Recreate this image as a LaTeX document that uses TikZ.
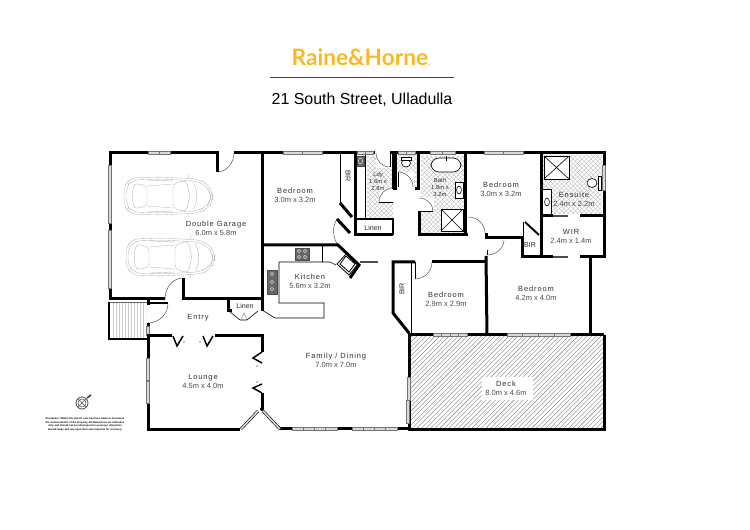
\documentclass[tikz,border=0pt]{standalone}
\usepackage{fontspec}
\usetikzlibrary{calc}
\setmainfont{Liberation Sans}
\newfontfamily\labfont[LetterSpace=12]{Liberation Sans}
\newfontfamily\logofont{Lato}
\definecolor{logoyellow}{HTML}{F9B91F}
\definecolor{winfill}{HTML}{DADADA}
\definecolor{labgrey}{HTML}{2E2E2E}
\definecolor{dimgrey}{HTML}{4A4A4A}
\newcommand{\rlab}[2]{{\labfont #1}\\{\rmfamily\color{dimgrey}#2}}
\tikzset{
  wall/.style={line width=2.25pt,line cap=butt,line join=miter,black},
  midwall/.style={line width=1.1pt,black},
  fine/.style={line width=0.45pt,black},
  doorarc/.style={line width=0.35pt,black!70},
  win/.style={fill=winfill,draw=black!55,line width=0.3pt},
  slider/.style={line width=1.6pt,black!70},
  bay/.style={draw=black,line width=0.45pt,double=winfill,double distance=1.2pt},
  carline/.style={line width=0.28pt,black!28},
  tile/.style={line width=0.2pt,black!38},
  hatchline/.style={line width=0.3pt,black!50},
  room/.style={font=\fontsize{5.6}{6.9}\selectfont,text=labgrey,align=center,inner sep=0pt},
  tightroom/.style={font=\rmfamily\fontsize{5.3}{6.9}\selectfont,text=labgrey,align=center,inner sep=0pt},
  smallroom/.style={font=\fontsize{4.4}{5.3}\selectfont,text=labgrey,align=center,inner sep=0pt},
  fix/.style={fill=black!60,draw=black!70,line width=0.2pt}
}
\newcommand{\qarc}[3]{\draw[doorarc] (#1) .. controls ($(#1)!0.55!(#2)$) and ($(#3)!0.55!(#2)$) .. (#3);}
\newcommand{\winh}[3]{\filldraw[win] (#1,#3-1.6) rectangle (#2,#3+1.6); \draw[line width=0.25pt,black!55] ({(#1+#2)/2},#3-1.6) -- ({(#1+#2)/2},#3+1.6);}
\newcommand{\winv}[3]{\filldraw[win] (#3-1.6,#1) rectangle (#3+1.6,#2);}
\newcommand{\carshape}[2]{%
 \begin{scope}[shift={(#1,#2)}]
  \draw[carline,rounded corners=5] (-44,-9) -- (-38,-18) -- (-8,-19) -- (30,-17) -- (40,-12) -- (45,-2) -- (45,4) -- (40,13) -- (30,17) -- (-8,19) -- (-38,18) -- (-44,9) -- cycle;
  \draw[carline,rounded corners=5] (-42,-8) -- (-36,-16) -- (-8,-17) -- (29,-15) -- (38,-10) -- (43,-2) -- (43,4) -- (38,11) -- (29,15) -- (-8,17) -- (-36,16) -- (-42,8) -- cycle;
  \draw[carline,rounded corners=3] (-34,-13) -- (-21,-10) -- (-21,10) -- (-34,13) -- (-36,0) -- cycle;
  \draw[carline,rounded corners=3] (5,-12) -- (18,-16) -- (22,0) -- (18,16) -- (5,12) -- cycle;
  \draw[carline] (-21,-10) -- (5,-12) (-21,10) -- (5,12);
  \draw[carline] (-20,-16) -- (5,-15) (-20,16) -- (5,15);
  \draw[carline] (20,-17) -- (21,-22) (20,17) -- (21,22);
  \draw[carline] (25,-14) .. controls (30,-5) and (30,5) .. (25,14);
 \end{scope}}
\begin{document}
\begin{tikzpicture}[x=0.75pt,y=-0.75pt]
\useasboundingbox (0,0) rectangle (750,530);
% header
\node[font=\logofont\bfseries\fontsize{17}{19}\selectfont,text=logoyellow,inner sep=0pt] (logo) at (361,57) {Raine\&Horne{\fontsize{7}{8}\selectfont.}};
\coordinate (ruleL) at (270,77); \coordinate (ruleR) at (454,77);
\draw[line width=0.55pt,black!75] (ruleL) -- (ruleR);
\node[font=\fontsize{11.95}{14}\selectfont,text=black,inner sep=0pt] (addr) at (362,100) {21 South Street, Ulladulla};
% deck hatch
\begin{scope}
 \clip (409,335) rectangle (604,430);
 \foreach \d in {300,304.6,...,610} \draw[hatchline] (\d,430) -- (\d+95,335);
\end{scope}
\fill[white] (482,377) rectangle (533,400);
% stairs hatch
\begin{scope}
 \clip (110,302) rectangle (146,338);
 \foreach \d in {113,116,...,146} \draw[line width=0.3pt,black!20] (\d,303) -- (\d,338);
\end{scope}
% tiled floors
\begin{scope}
 \clip (367,156) rectangle (393,218) (397,155) rectangle (417,187) (421,156) rectangle (464,233) (543,155) rectangle (602,214);
 \foreach \d in {240,244.5,...,720} {
  \draw[tile] (\d,150) -- (\d+90,240);
  \draw[tile] (\d,150) -- (\d-90,240);
 }
\end{scope}
% white door sweeps and fixtures on tile
\fill[white] (376,153) rectangle (393,168);
\fill[white] (379,188) rectangle (394,203);
\fill[white] (397,172) rectangle (414,188);
\fill[white] (419,197) rectangle (434,212);
\fill[white] (542,189) rectangle (551,214);
\fill[white] (455,182) rectangle (463,198);
% cars
\carshape{168}{196}
\carshape{170}{257}
% thin interior lines
\draw[fine] (340,153) -- (340,204);
\draw[fine] (365,153) -- (365,220);
\draw[fine] (411,262) -- (411,333);
\draw[fine] (322,245) -- (322,262);
\draw[fine] (279,262) -- (330,262) -- (336,265);
\draw[fine] (279,262) -- (279,303) -- (324,303) -- (324,318) -- (275,318) -- (262,310);
\draw[fine] (229,311) -- (240,320) -- (247,320) -- (258,311);
\draw[line width=0.3pt,black!50] (241,320) -- (244,313) -- (247,320);
\draw[fine] (487,255) -- (487,250);
\draw[fine] (415,262) -- (415,279);
\draw[fine] (398,172) -- (398,187);
\draw[fine] (419,211) -- (433,211);
\draw[fine] (379,202) -- (393,202);
\draw[fine] (390,153) -- (390,167);
\draw[fine] (523,222) -- (523,238);
% stairs outline
\draw[line width=0.3pt,black!60] (109,302) -- (147,302);
\draw[line width=0.9pt,black] (147,339) -- (109,339) -- (109,302);
% door arcs
\qarc{217,172}{234,172}{234,153}
\qarc{183,278}{165,278}{165,299}
\qarc{168,303}{168,323}{148,323}
\qarc{376,153}{376,167}{390,167}
\qarc{379,202}{379,188}{393,188}
\qarc{398,172}{413,172}{413,187}
\qarc{419,198}{433,198}{433,211}
\qarc{468,217}{485,217}{485,233}
\qarc{487,255}{504,255}{504,240}
\qarc{415,279}{432,279}{432,262}
\qarc{337,219}{328,232}{338,245}
% main walls
\draw[wall] (165,299) -- (110,299) -- (110,153) -- (217,153) -- (217,172);
\draw[wall] (234,153) -- (375,153);
\draw[wall] (390,153) -- (604,153) -- (604,257) -- (580,257);
\draw[wall] (262,153) -- (262,311);
\draw[wall] (183,278) -- (183,299) -- (262,299);
\draw[wall] (262,245) -- (338,245) -- (359,265) -- (350,278);
\draw[wall] (340,203) -- (352,217);
\draw[wall] (337,219) -- (350,233);
\draw[wall] (355,153) -- (355,235) -- (393,235);
\draw[line width=1.6pt] (355,219) -- (393,219) -- (393,235);
\draw[wall] (393,153) -- (393,189);
\draw[wall] (395,153) -- (395,189) -- (393,189);
\draw[wall] (418,153) -- (418,189) -- (415,189);
\draw[wall] (419,211) -- (419,235) -- (468,235);
\draw[wall] (465,153) -- (465,235);
\draw[wall] (486,256) -- (487,335);
\draw[wall] (486,233) -- (486,238) -- (522,238) -- (522,257) -- (553,257);
\draw[wall] (541,153) -- (541,257);
\draw[wall] (541,216) -- (553,216);
\draw[wall] (580,216) -- (604,216);
\draw[wall] (590,257) -- (590,335);
\draw[line width=1.4pt] (525,222) -- (539,235);
\draw[wall] (432,262) -- (487,262);
\draw[wall] (415,262) -- (393,262) -- (393,313) -- (409,333);
\draw[wall] (409,335) -- (604,335);
\draw[wall] (604,335) -- (604,431);
\draw[wall] (409,430) -- (604,430);
\draw[wall] (409,333) -- (409,431);
% entry / lounge
\draw[midwall] (148,303) -- (168,303);
\draw[wall] (148,299) -- (148,305);
\draw[wall] (148,323) -- (148,327);
\winv{326}{335}{148}
\draw[wall] (172,336) -- (148,336) -- (148,431);
\draw[wall] (148,430) -- (240,430);
\draw[wall] (215,336) -- (262,336) -- (262,352);
\draw[wall] (262,393) -- (262,409);
\draw[wall] (279,429) -- (409,429);
\draw[wall] (228,299) -- (228,311) -- (232,311);
\draw[bay] (241,429) -- (258,411);
\draw[bay] (263,411) -- (280,429);
\fill (262,409) circle (2);
% bifold doors
\draw[midwall] (173,336) -- (177,346) -- (183,336);
\draw[midwall] (203,336) -- (207,346) -- (213,336);
\draw[midwall] (262,352) -- (253,358) -- (262,363);
\draw[midwall] (262,384) -- (253,388) -- (262,393);
\fill (184,342) circle (0.6) (200,342) circle (0.6) (257,366) circle (0.6) (257,382) circle (0.6);
% windows
\winh{148}{170}{153}
\winh{283}{322}{153}
\winh{357}{373}{153}
\winh{398}{415}{153}
\winh{430}{455}{153}
\winh{484}{523}{153}
\winh{292}{314}{429}
\winh{314}{337}{429}
\winh{352}{374}{429}
\winh{374}{397}{429}
\winh{433}{450}{335}
\winh{450}{467}{335}
\winh{507}{538}{335}
\winh{538}{570}{335}
\winv{165}{223}{110}
\winv{230}{288}{110}
\winv{358}{380}{148}
\winv{381}{403}{148}
\winv{165}{190}{604}
\winv{377}{400}{409}
\winv{400}{423}{408}
% sliding door stubs
\draw[slider] (553,216) -- (568,216);
\draw[slider] (553,257) -- (568,257);
\draw[slider] (360,262) -- (378,262);
% kitchen fixtures
\filldraw[fix] (295,248) rectangle (309,260);
\foreach \x in {299,305} \foreach \y in {251,257} \draw[white,line width=0.3pt] (\x,\y) circle (1.6);
\filldraw[fix] (267,270) rectangle (277,294);
\foreach \y in {274,282,289} \draw[white,line width=0.3pt] (272,\y) circle (1.6);
\draw[fine,line width=0.6pt] (347,253) -- (358,264) -- (349,275) -- (337,264) -- cycle;
\draw[fine,line width=0.6pt] (346,256) -- (355,264) -- (349,272) -- (340,264) -- cycle;
% laundry tub
\filldraw[fix] (357,156) rectangle (364,166);
\draw[white,line width=0.3pt] (360.5,161) ellipse (2 and 3);
% toilet rm
\draw[fine,fill=white] (406,163) ellipse (4.5 and 4);
\draw[fine,fill=white] (401,157) rectangle (411,160);
% bath
\draw[fine,fill=white,rounded corners=6] (431,158) rectangle (461,172);
\draw[fine] (446,156) -- (446,161);
\draw[fine] (455,182) rectangle (463,198);
\draw[fine] (459,190) ellipse (2.4 and 4);
\draw[fine,fill=white] (441,209) rectangle (463,231);
\draw[fine] (441,209) -- (463,231) (441,231) -- (463,209);
\fill (452,220) circle (0.5);
% ensuite
\draw[fine,fill=white] (544,156) rectangle (569,179);
\draw[fine] (544,156) -- (569,179) (544,179) -- (569,156);
\fill (556.5,167.5) circle (0.5);
\draw[fine,fill=white] (592,183) ellipse (5 and 4.5);
\draw[fine,fill=white] (598,176) rectangle (601,190);
\draw[fine] (542,189) rectangle (551,214);
\draw[fine] (547,202) ellipse (2.4 and 4);
% labels
\node[room] (garage) at (216,228) {\rlab{Double Garage}{6.0m x 5.8m}};
\node[room] (bed1) at (295,195.5) {\rlab{Bedroom}{3.0m x 3.2m}};
\node[room] (kitchen) at (310,281.5) {\rlab{Kitchen}{5.6m x 3.2m}};
\node[room] (family) at (336,360.5) {\rlab{Family / Dining}{7.0m x 7.0m}};
\node[room] (lounge) at (203,381.5) {\rlab{Lounge}{4.5m x 4.0m}};
\node[room,font=\labfont\fontsize{5.6}{6.9}\selectfont] (entry) at (198,318) {Entry};
\node[room] (deck) at (506,388) {\rlab{Deck}{8.0m x 4.6m}};
\node[room] (bed2) at (446,299) {\rlab{Bedroom}{2.9m x 2.9m}};
\node[room] (bed3) at (536,293.5) {\rlab{Bedroom}{4.2m x 4.0m}};
\node[room] (bed4) at (501,189.5) {\rlab{Bedroom}{3.0m x 3.2m}};
\node[room] (ensuite) at (574,199.5) {\rlab{Ensuite}{2.4m x 2.2m}};
\node[room] (wir) at (571,236.5) {\rlab{WIR}{2.4m x 1.4m}};
\node[tightroom] (bir3) at (530,245) {BIR};
\node[tightroom,rotate=-90] (bir1) at (348,176) {BIR};
\node[tightroom,rotate=90] (bir2) at (402,289) {BIR};
\node[tightroom] (linen1) at (245,306) {Linen};
\node[tightroom] (linen2) at (373,228) {Linen};
\node[smallroom] (ldy) at (378,181) {Ldy\\1.6m x\\2.8m};
\node[smallroom] (bath) at (440,187) {Bath\\1.8m x\\3.2m};
% compass
\draw[line width=0.6pt,black!70] (82,403) circle (6);
\draw[line width=0.4pt,black!70] (82,403) circle (4);
\draw[line width=0.3pt,black!70] (78,399) -- (86,407) (78,407) -- (86,399);
\draw[line width=1.1pt,black!80] (87,398) -- (91,395);
% disclaimer
\node[font=\fontsize{1.95}{2.6}\selectfont,align=center,inner sep=0pt,text=black] (disclaimer) at (85,424.5) {\textbf{Disclaimer: Whilst the utmost care has been taken to document}\\\textbf{the measurements of the property, all dimensions are indicative}\\\textbf{only, and should not be relied upon for accuracy. All parties}\\\textbf{should make and rely upon their own inquiries for accuracy.}};
\end{tikzpicture}
\end{document}
